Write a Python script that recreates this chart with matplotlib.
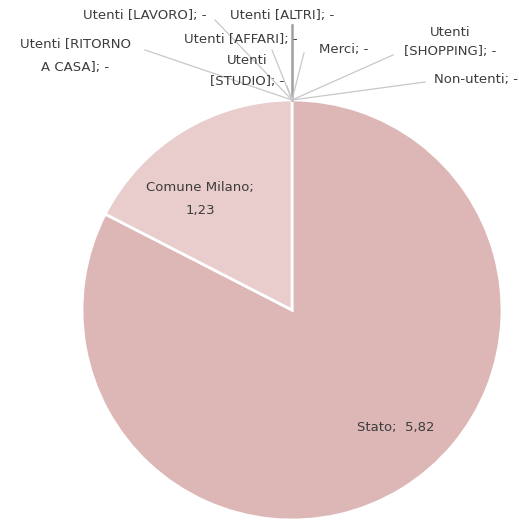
import matplotlib
matplotlib.use("Agg")
import matplotlib.pyplot as plt

# spesa per soggetto (milioni di euro)
categorie = ["Stato", "Comune Milano", "Utenti [LAVORO]", "Utenti [ALTRI]",
             "Utenti [RITORNO\nA CASA]", "Utenti [AFFARI]", "Utenti\n[STUDIO]",
             "Merci", "Utenti\n[SHOPPING]", "Non-utenti"]
valori = [5.82, 1.23, 0, 0, 0, 0, 0, 0, 0, 0]
colori = ["#ddb6b6", "#e9cccc"]

# posizione delle etichette delle voci nulle (pixel) e interlinea
pos_etichette = {
    "Utenti [LAVORO]": (145, 16, 1.2),
    "Utenti [ALTRI]": (282, 16, 1.2),
    "Utenti [RITORNO\nA CASA]": (75, 56, 2.1),
    "Utenti [AFFARI]": (241, 40, 1.2),
    "Utenti\n[STUDIO]": (247, 71, 1.8),
    "Merci": (344, 49, 1.2),
    "Utenti\n[SHOPPING]": (450, 42, 1.7),
    "Non-utenti": (476, 79, 1.2),
}
# punto di partenza delle linee guida
attacco = {
    "Utenti [LAVORO]": (215, 20),
    "Utenti [ALTRI]": (292, 25),
    "Utenti [RITORNO\nA CASA]": (145, 50),
    "Utenti [AFFARI]": (272, 50),
    "Utenti\n[STUDIO]": (287, 86),
    "Merci": (304, 53),
    "Utenti\n[SHOPPING]": (393, 55),
    "Non-utenti": (425, 82),
}

W, H = 519, 521
fig = plt.figure(figsize=(W / 100, H / 100), dpi=100)
ax = fig.add_axes([0, 0, 1, 1])

cx, cy, r = 292, H - 310, 210
nz = [(c, v) for c, v in zip(categorie, valori) if v > 0]
ax.pie([v for _, v in nz], colors=colori, startangle=90, counterclock=False,
       center=(cx, cy), radius=r, frame=True,
       wedgeprops=dict(edgecolor="white", linewidth=2))
ax.set_xlim(0, W)
ax.set_ylim(0, H)
ax.set_aspect("auto")
ax.axis("off")

testo = dict(fontsize=9.5, color="#3c3c3c", family="DejaVu Sans")

def fmt(v):
    return "-" if v == 0 else f"{v:.2f}".replace(".", ",")

ax.text(396, H - 427, f"Stato;  {fmt(valori[0])}", ha="center", va="center", **testo)
ax.text(200, H - 199, f"Comune Milano;\n{fmt(valori[1])}", ha="center", va="center",
        linespacing=2.0, **testo)

top = (cx, cy + r)
for c, v in zip(categorie, valori):
    if v > 0:
        continue
    x, y, ls = pos_etichette[c]
    ax.text(x, H - y, f"{c}; {fmt(v)}", ha="center", va="center", linespacing=ls, **testo)
    ax_, ay_ = attacco[c]
    lw = 1.8 if c == "Utenti [ALTRI]" else 0.9
    col = "#a0a0a0" if c == "Utenti [ALTRI]" else "#c8c8c8"
    ax.plot([ax_, top[0]], [H - ay_, top[1]], color=col, lw=lw)

fig.savefig("out.png", dpi=100, facecolor="white")
